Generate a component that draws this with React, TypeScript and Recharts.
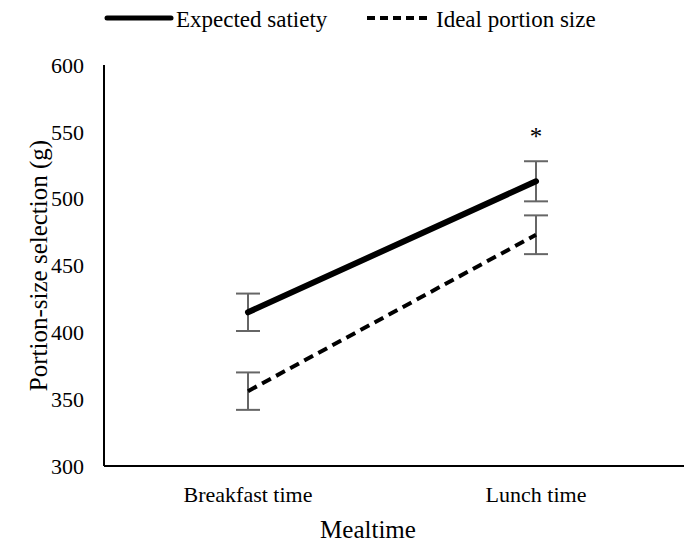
import React from 'react';
import { LineChart, Line, XAxis, YAxis, ErrorBar, LabelList } from 'recharts';

const categories = ['Breakfast time', 'Lunch time'];
const expectedSatiety = [415, 513];
const expectedErr = [14, 15];
const idealPortion = [356, 473];
const idealErr = [14, 14.5];
const significance = ['', '*'];
const seriesNames = ['Expected satiety', 'Ideal portion size'];
const yTicks = [300, 350, 400, 450, 500, 550, 600];

const data = categories.map((c, i) => ({
  name: c,
  expected: expectedSatiety[i],
  expErr: expectedErr[i],
  ideal: idealPortion[i],
  idealErr: idealErr[i],
  sig: significance[i],
}));

const FONT = '"Liberation Serif", "Times New Roman", serif';

const SigLabel = (props: any) => {
  const { x, y, value } = props;
  if (!value) return null;
  return (
    <text x={x} y={y - 36} textAnchor="middle" fontFamily={FONT} fontSize={25} fill="#000">
      {value}
    </text>
  );
};

export default function App() {
  return (
    <div style={{ position: 'absolute', left: 0, top: 0, width: 684, height: 543, background: '#fff' }}>
      <svg width={684} height={40} style={{ position: 'absolute', left: 0, top: 0 }}>
        <line x1={107} y1={18} x2={171} y2={18} stroke="#000" strokeWidth={5} strokeLinecap="round" />
        <text x={176} y={26.5} fontFamily={FONT} fontSize={23} fill="#000">{seriesNames[0]}</text>
        <line x1={367} y1={18} x2={430} y2={18} stroke="#000" strokeWidth={4} strokeDasharray="8 5" />
        <text x={436} y={26.5} fontFamily={FONT} fontSize={23} fill="#000">{seriesNames[1]}</text>
      </svg>
      <LineChart
        width={684}
        height={543}
        data={data}
        margin={{ top: 65, right: 0, bottom: 0, left: 0 }}
        style={{ fontFamily: FONT }}
      >
        <XAxis
          dataKey="name"
          padding={{ left: 144, right: 148 }}
          axisLine={{ stroke: '#000', strokeWidth: 2 }}
          tickLine={false}
          tickSize={0}
          tickMargin={20}
          height={77}
          tick={{ fill: '#000', fontSize: 22, fontFamily: FONT }}
          label={{
            content: (p: any) => {
              const vb = p.viewBox;
              return (
                <text x={368} y={vb.y + 72} textAnchor="middle" fontFamily={FONT} fontSize={25} fill="#000">
                  Mealtime
                </text>
              );
            },
          }}
        />
        <YAxis
          width={104}
          domain={[300, 600]}
          ticks={yTicks}
          interval={0}
          axisLine={{ stroke: '#000', strokeWidth: 2 }}
          tickLine={false}
          tickSize={0}
          tickMargin={20}
          tick={{ fill: '#000', fontSize: 22, fontFamily: FONT }}
          label={{
            content: (p: any) => {
              const vb = p.viewBox;
              const cy = vb.y + vb.height / 2;
              return (
                <text x={38} y={cy} transform={`rotate(-90 38 ${cy})`} textAnchor="middle" dominantBaseline="central" fontFamily={FONT} fontSize={25} fill="#000">
                  Portion-size selection (g)
                </text>
              );
            },
          }}
        />
        <Line
          type="linear"
          dataKey="expected"
          name={seriesNames[0]}
          stroke="#000"
          strokeWidth={6}
          strokeLinecap="round"
          dot={false}
          activeDot={false}
          isAnimationActive={false}
        >
          <ErrorBar dataKey="expErr" width={12} stroke="#666" strokeWidth={2} direction="y" />
          <LabelList dataKey="sig" content={SigLabel} />
        </Line>
        <Line
          type="linear"
          dataKey="ideal"
          name={seriesNames[1]}
          stroke="#000"
          strokeWidth={4}
          strokeDasharray="10 6"
          dot={false}
          activeDot={false}
          isAnimationActive={false}
        >
          <ErrorBar dataKey="idealErr" width={12} stroke="#666" strokeWidth={2} direction="y" />
        </Line>
      </LineChart>
    </div>
  );
}
